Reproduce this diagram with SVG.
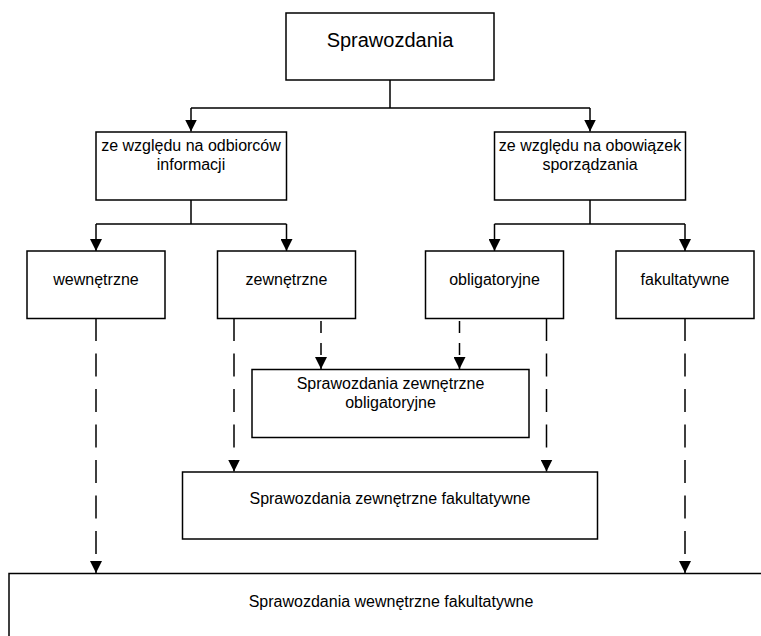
<svg xmlns="http://www.w3.org/2000/svg" width="761" height="636" viewBox="0 0 761 636">
<style>
.box{fill:#fff;stroke:#000;stroke-width:1.5}
.t{font-family:"Liberation Sans",Arial,sans-serif;font-size:16px;fill:#000;text-anchor:middle}
.big{font-size:20px}
.ln{fill:none;stroke:#000;stroke-width:1.5}
.dl{stroke-dasharray:23 12.5}
.ds{stroke-dasharray:12 10}
</style>
<defs>
<marker id="ah" viewBox="0 0 12 12" refX="12" refY="6" markerWidth="12" markerHeight="12" markerUnits="userSpaceOnUse" orient="auto">
<path d="M0,0 L12,6 L0,12 Z" fill="#000"/>
</marker>
</defs>
<rect width="761" height="636" fill="#fff"/>
<g id="connectors">
<path class="ln" d="M390,80 V108 M191,108 H590"/>
<path class="ln" d="M191,108 V131.5" marker-end="url(#ah)"/>
<path class="ln" d="M590,108 V131.5" marker-end="url(#ah)"/>
<path class="ln" d="M191,200 V224 M96,224 H286.5 M494.5,224 H685 M590,200 V224"/>
<path class="ln" d="M96,224 V251" marker-end="url(#ah)"/>
<path class="ln" d="M286.5,224 V251" marker-end="url(#ah)"/>
<path class="ln" d="M494.5,224 V251" marker-end="url(#ah)"/>
<path class="ln" d="M685,224 V251" marker-end="url(#ah)"/>
<path class="ln dl" d="M96,318 V573" marker-end="url(#ah)"/>
<path class="ln dl" d="M685,318 V573" marker-end="url(#ah)"/>
<path class="ln dl" d="M234,318 V471.5" marker-end="url(#ah)"/>
<path class="ln dl" d="M546.5,318 V471.5" marker-end="url(#ah)"/>
<path class="ln ds" d="M321,321 V369" marker-end="url(#ah)"/>
<path class="ln ds" d="M459.5,321 V369" marker-end="url(#ah)"/>
</g>
<g id="n-root"><rect class="box" x="286" y="13" width="208" height="67"/><text class="t big" x="390" y="47">Sprawozdania</text></g>
<g id="n-odbiorcy"><rect class="box" x="96" y="132" width="190.5" height="68"/><text class="t" x="191" y="151">ze względu na odbiorców</text><text class="t" x="191" y="170">informacji</text></g>
<g id="n-obowiazek"><rect class="box" x="494.5" y="132" width="191" height="68"/><text class="t" x="590" y="151">ze względu na obowiązek</text><text class="t" x="590" y="170">sporządzania</text></g>
<g id="n-wewn"><rect class="box" x="27" y="251" width="138" height="67.5"/><text class="t" x="96" y="285">wewnętrzne</text></g>
<g id="n-zewn"><rect class="box" x="217.5" y="251" width="138" height="67.5"/><text class="t" x="286.5" y="285">zewnętrzne</text></g>
<g id="n-oblig"><rect class="box" x="425.5" y="251" width="138" height="67.5"/><text class="t" x="494.5" y="285">obligatoryjne</text></g>
<g id="n-fakult"><rect class="box" x="616" y="251" width="138" height="67.5"/><text class="t" x="685" y="285">fakultatywne</text></g>
<g id="n-zewn-oblig"><rect class="box" x="252" y="369.5" width="277" height="68"/><text class="t" x="390.5" y="389">Sprawozdania zewnętrzne</text><text class="t" x="390.5" y="408">obligatoryjne</text></g>
<g id="n-zewn-fak"><rect class="box" x="182.5" y="472" width="415" height="67"/><text class="t" x="390" y="504">Sprawozdania zewnętrzne fakultatywne</text></g>
<g id="n-wewn-fak"><rect class="box" x="9" y="573.5" width="780" height="100"/><text class="t" x="391" y="607">Sprawozdania wewnętrzne fakultatywne</text></g>
</svg>
